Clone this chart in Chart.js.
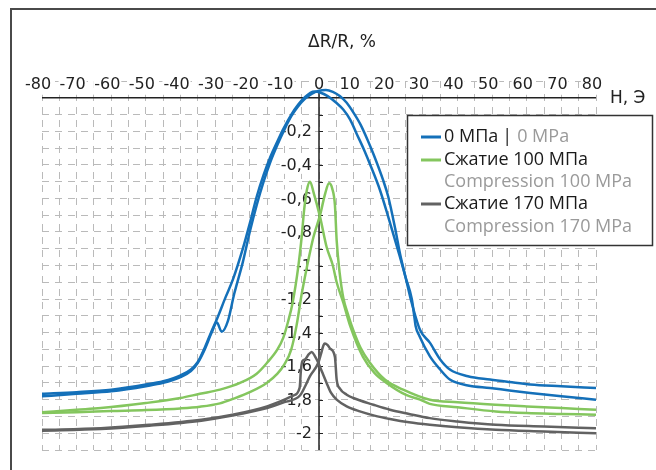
<!DOCTYPE html>
<html lang="ru">
<head>
    <meta charset="UTF-8">
    <title>ΔR/R, %</title>
    <script src="https://cdn.jsdelivr.net/npm/chart.js@4.4.4/dist/chart.umd.min.js"></script>
    <style>
        html, body { margin: 0; padding: 0; background: #fff; }
        #wrap { width: 656px; height: 470px; }
    </style>
</head>
<body>
<div id="wrap"><canvas id="chart" width="656" height="470"></canvas></div>
<script>
// tick labels
const xTickValues = [-80, -70, -60, -50, -40, -30, -20, -10, 0, 10, 20, 30, 40, 50, 60, 70, 80];
const yTickValues = [-0.2, -0.4, -0.6, -0.8, -1, -1.2, -1.4, -1.6, -1.8, -2];
const yTickText = ['-0,2', '-0,4', '-0,6', '-0,8', '-1', '-1,2', '-1,4', '-1,6', '-1,8', '-2'];
const yTitle = 'ΔR/R, %';
const xTitle = 'Н, Э';

// legend
const legendMain = ['0 МПа', 'Сжатие 100 МПа', 'Сжатие 170 МПа'];
const legendSub = ['0 MPa', 'Compression 100 MPa', 'Compression 170 MPa'];
const seriesColors = ['#1470b9', '#84c65e', '#626262'];

// 0 MPa, branch with peak left of zero
const blueAH = [-80, -70, -60, -50, -45, -40, -37, -35, -33, -31, -29.5, -27, -24.8, -22, -20, -18, -16, -14, -12, -10.4, -8, -6, -4, -2.5, -1.2, 0.5, 2.5, 5, 7, 9, 11, 13, 15, 17.6, 20, 23.4, 25, 26.8, 27.5, 27.9, 29, 32, 35, 37.8, 43, 49.4, 55, 61, 70, 80];
const blueAR = [-1.765, -1.755, -1.74, -1.71, -1.69, -1.655, -1.62, -1.575, -1.49, -1.39, -1.32, -1.19, -1.08, -0.9, -0.75, -0.59, -0.46, -0.35, -0.26, -0.19, -0.1, -0.04, 0.005, 0.03, 0.038, 0.03, 0.01, -0.03, -0.07, -0.13, -0.22, -0.31, -0.41, -0.55, -0.71, -0.95, -1.07, -1.2, -1.3, -1.36, -1.42, -1.54, -1.62, -1.68, -1.715, -1.73, -1.745, -1.76, -1.78, -1.8];
// 0 MPa, branch with peak right of zero
const blueBH = [-80, -70, -60, -50, -45, -40, -37, -35, -33, -31, -29.5, -28.1, -26.3, -24.5, -22, -20, -18, -16, -14, -12, -10, -8, -6, -4, -2, 0, 2, 4, 6, 8, 10, 12, 14, 16, 18.5, 20, 22, 23.4, 25, 26.8, 29.2, 32, 35, 37.8, 43, 49.4, 55, 61, 70, 80];
const blueBR = [-1.78, -1.765, -1.75, -1.72, -1.7, -1.665, -1.63, -1.58, -1.5, -1.4, -1.34, -1.395, -1.33, -1.17, -0.98, -0.8, -0.64, -0.5, -0.38, -0.28, -0.19, -0.11, -0.05, -0.005, 0.025, 0.042, 0.046, 0.035, 0.01, -0.03, -0.09, -0.16, -0.25, -0.35, -0.49, -0.59, -0.78, -0.93, -1.07, -1.225, -1.385, -1.46, -1.56, -1.62, -1.66, -1.68, -1.695, -1.71, -1.72, -1.73];

// 100 MPa
const greenAH = [-80, -70, -63, -50, -40, -34.4, -28.6, -22.8, -18, -15, -12, -10.3, -9, -7.6, -6, -5, -4.3, -3.5, -2.6, -1.5, 0.3, 2.2, 4, 5.1, 7, 9, 12.7, 16, 19.5, 25, 29.2, 32, 40, 51, 60, 70, 80];
const greenAR = [-1.875, -1.86, -1.85, -1.82, -1.79, -1.765, -1.74, -1.7, -1.645, -1.58, -1.5, -1.43, -1.34, -1.22, -1.01, -0.83, -0.67, -0.55, -0.5, -0.57, -0.71, -0.89, -1.0, -1.1, -1.22, -1.36, -1.545, -1.64, -1.7, -1.77, -1.8, -1.825, -1.845, -1.87, -1.88, -1.885, -1.89];
const greenBH = [-80, -70, -60, -50, -40, -34.4, -28.6, -24.8, -20, -15.1, -12, -10, -8, -6.5, -5, -3.5, -1.6, 0.3, 1.8, 2.9, 3.8, 4.6, 5.1, 6, 7, 8.5, 9.9, 12, 14.7, 19, 24.3, 32, 40, 51, 60, 70, 80];
const greenBR = [-1.88, -1.875, -1.868, -1.862, -1.852, -1.842, -1.822, -1.795, -1.755, -1.7, -1.645, -1.59, -1.5, -1.36, -1.17, -1.01, -0.83, -0.7, -0.57, -0.51, -0.54, -0.64, -0.85, -1.05, -1.19, -1.3, -1.385, -1.49, -1.58, -1.68, -1.74, -1.8, -1.815, -1.83, -1.84, -1.85, -1.86];

// 170 MPa
const grayAH = [-80, -63, -49, -34, -25, -15, -10, -7.4, -5.6, -5.2, -4.8, -4, -3, -2.1, -1.2, -0.2, 1, 2.2, 3.5, 5.1, 8, 11.8, 16, 20.5, 26, 32, 40, 51, 65, 80];
const grayAR = [-1.98, -1.97, -1.95, -1.92, -1.89, -1.84, -1.8, -1.775, -1.73, -1.62, -1.57, -1.56, -1.53, -1.515, -1.54, -1.58, -1.64, -1.7, -1.76, -1.8, -1.84, -1.87, -1.895, -1.915, -1.935, -1.95, -1.965, -1.98, -1.99, -2.0];
const grayBH = [-80, -63, -49, -34, -25, -15, -10, -5.5, -4, -2.6, -0.2, 0.8, 1.3, 1.7, 2.5, 3.2, 4.6, 5.1, 6.1, 8, 9.9, 15.7, 20.5, 26, 32, 40, 51, 65, 80];
const grayBR = [-1.985, -1.975, -1.955, -1.925, -1.895, -1.85, -1.815, -1.775, -1.72, -1.66, -1.58, -1.51, -1.475, -1.465, -1.475, -1.495, -1.545, -1.68, -1.735, -1.77, -1.79, -1.83, -1.86, -1.885, -1.91, -1.93, -1.95, -1.96, -1.97];

function pts(h, r) {
    return h.map((v, i) => ({ x: v, y: r[i] }));
}

function branch(h, r, color) {
    return {
        data: pts(h, r),
        borderColor: color,
        borderWidth: 2.5,
        showLine: true,
        pointRadius: 0,
        fill: false,
        cubicInterpolationMode: 'monotone'
    };
}

const axisFont = '16px "DejaVu Sans"';
const legendFont = '18px "Open Sans"';

// axes through zero, tick labels, titles, frame and legend
const decor = {
    id: 'decor',
    beforeDraw(chart) {
        const c = chart.ctx;
        c.save();
        c.fillStyle = '#fff';
        c.fillRect(0, 0, chart.width, chart.height);
        c.strokeStyle = '#4a4a4a';
        c.lineWidth = 2;
        c.beginPath();
        c.moveTo(11, chart.height);
        c.lineTo(11, 9);
        c.lineTo(chart.width, 9);
        c.stroke();
        c.restore();
    },
    beforeDatasetsDraw(chart) {
        const c = chart.ctx;
        const x = chart.scales.x, y = chart.scales.y;
        const x0 = x.getPixelForValue(0);
        const y0 = y.getPixelForValue(0);
        c.save();
        c.font = axisFont;
        c.textBaseline = 'middle';

        // x tick labels above the axis
        c.textAlign = 'center';
        xTickValues.forEach(v => {
            const px = x.getPixelForValue(v) + (v === 0 ? 0 : -4);
            const t = String(v);
            const w = c.measureText(t).width;
            c.fillStyle = '#fff';
            c.fillRect(px - w / 2 - 1, y0 - 22, w + 2, 19);
            c.fillStyle = '#222';
            c.fillText(t, px, y0 - 13);
        });

        // y tick labels left of the vertical axis
        c.textAlign = 'right';
        yTickValues.forEach((v, i) => {
            const py = y.getPixelForValue(v);
            const w = c.measureText(yTickText[i]).width;
            c.fillStyle = '#fff';
            c.fillRect(x0 - 8 - w, py - 9, w + 3, 18);
            c.fillStyle = '#222';
            c.fillText(yTickText[i], x0 - 7, py + 1);
        });

        // axis lines
        c.strokeStyle = '#222';
        c.lineWidth = 1.5;
        c.beginPath();
        c.moveTo(x.getPixelForValue(-80), y0);
        c.lineTo(x.getPixelForValue(80), y0);
        c.moveTo(x0, y.getPixelForValue(0.04));
        c.lineTo(x0, y.getPixelForValue(-2.1));
        c.stroke();
        c.lineWidth = 1;
        c.beginPath();
        for (let k = 1; k <= 20; k++) {
            const py = Math.round(y.getPixelForValue(-k / 10)) + 0.5;
            c.moveTo(x0, py);
            c.lineTo(x0 + 4, py);
        }
        c.stroke();

        // titles
        c.fillStyle = '#222';
        c.font = '17px "DejaVu Sans"';
        c.textAlign = 'left';
        c.fillText(yTitle, 308, 43);
        c.fillText(xTitle, 610, y0 + 1);
        c.restore();
    },
    afterDatasetsDraw(chart) {
        const c = chart.ctx;
        c.save();
        c.fillStyle = '#fff';
        c.fillRect(407, 115, 246, 130);
        c.strokeStyle = '#333';
        c.lineWidth = 1.5;
        c.strokeRect(407.5, 115.5, 245, 130);

        c.font = legendFont;
        c.textAlign = 'left';
        c.textBaseline = 'middle';
        const rows = [137, 160, 204];
        const subRows = [137, 182, 227];
        legendMain.forEach((t, i) => {
            c.strokeStyle = seriesColors[i];
            c.lineWidth = 3;
            c.beginPath();
            c.moveTo(421, rows[i]);
            c.lineTo(441, rows[i]);
            c.stroke();
            c.fillStyle = '#1a1a1a';
            c.fillText(t, 444, rows[i]);
        });
        // first row continues on the same line
        let wx = 444 + c.measureText(legendMain[0]).width + 4;
        c.fillStyle = '#1a1a1a';
        c.fillText('|', wx, subRows[0]);
        wx += c.measureText('|').width + 5;
        c.fillStyle = '#9a9a9a';
        c.fillText(legendSub[0], wx, subRows[0]);
        c.fillText(legendSub[1], 444, subRows[1]);
        c.fillText(legendSub[2], 444, subRows[2]);
        c.restore();
    }
};

new Chart(document.getElementById('chart'), {
    type: 'scatter',
    data: {
        datasets: [
            branch(grayAH, grayAR, seriesColors[2]),
            branch(grayBH, grayBR, seriesColors[2]),
            branch(greenAH, greenAR, seriesColors[1]),
            branch(greenBH, greenBR, seriesColors[1]),
            branch(blueAH, blueAR, seriesColors[0]),
            branch(blueBH, blueBR, seriesColors[0])
        ]
    },
    options: {
        responsive: false,
        animation: false,
        devicePixelRatio: 1,
        layout: { padding: { left: 42, right: 60, top: 81, bottom: 20 } },
        plugins: {
            legend: { display: false },
            tooltip: { enabled: false }
        },
        scales: {
            x: {
                type: 'linear',
                min: -80,
                max: 80,
                ticks: { display: false, stepSize: 5 },
                grid: { color: '#bababa', lineWidth: 1, drawTicks: false },
                border: { display: false, dash: [7, 6] }
            },
            y: {
                type: 'linear',
                min: -2.1,
                max: 0.1,
                ticks: { display: false, stepSize: 0.1 },
                grid: { color: '#bababa', lineWidth: 1, drawTicks: false },
                border: { display: false, dash: [7, 6] }
            }
        }
    },
    plugins: [decor]
});
</script>
</body>
</html>
